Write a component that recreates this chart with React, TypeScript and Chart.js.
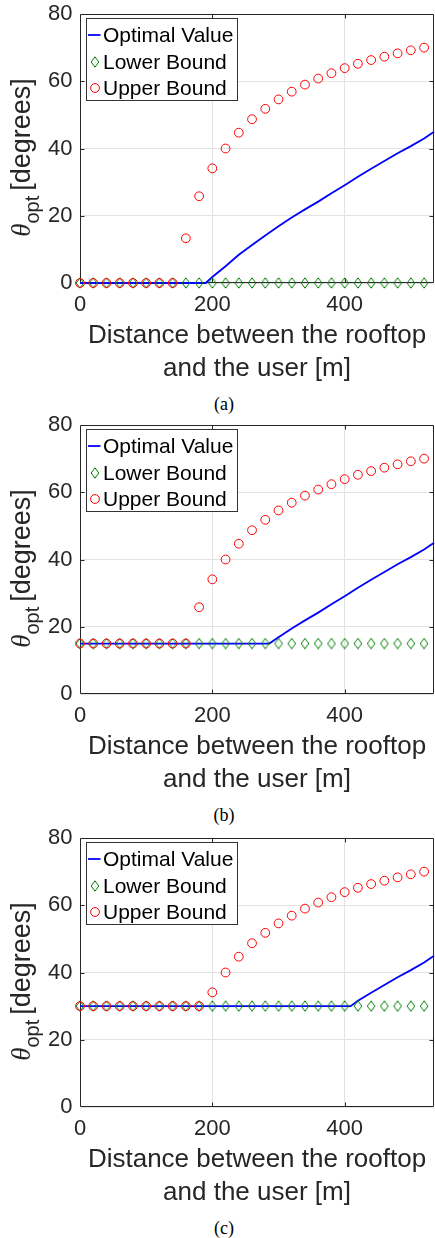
import React, { useEffect, useRef } from 'react';
import { Chart, registerables } from 'chart.js';

Chart.register(...registerables);

// ---------- data ----------
const markerDistances = [0, 20, 40, 60, 80, 100, 120, 140, 160, 180, 200, 220, 240, 260, 280, 300, 320, 340, 360, 380, 400, 420, 440, 460, 480, 500, 520];

const xTickValues = [0, 200, 400];
const yTickValues = [0, 20, 40, 60, 80];

const xAxisTitle = ['Distance between the rooftop', 'and the user [m]'];
const seriesNames = ['Optimal Value', 'Lower Bound', 'Upper Bound'];
const captions = ['(a)', '(b)', '(c)'];

// panel (a)
const optDistA = [0, 190, 200, 220, 240, 260, 280, 300, 320, 340, 360, 380, 400, 420, 440, 460, 480, 500, 520, 535];
const optA = [0, 0, 1.8, 5.0, 8.4, 11.3, 14.1, 16.9, 19.5, 21.9, 24.2, 26.7, 29.1, 31.6, 34.0, 36.3, 38.6, 40.7, 43.0, 45.0];
const lowerA = [0, 0, 0, 0, 0, 0, 0, 0, 0, 0, 0, 0, 0, 0, 0, 0, 0, 0, 0, 0, 0, 0, 0, 0, 0, 0, 0];
const upperA = [0, 0, 0, 0, 0, 0, 0, 0, 13.3, 25.8, 34.1, 40.0, 44.7, 48.7, 51.8, 54.6, 56.9, 59.0, 60.8, 62.4, 63.9, 65.2, 66.3, 67.3, 68.3, 69.2, 70.0];

// panel (b)
const optDistB = [0, 286, 300, 320, 340, 360, 380, 400, 420, 440, 460, 480, 500, 520, 535];
const optB = [15, 15, 16.9, 19.5, 21.9, 24.2, 26.7, 29.1, 31.6, 34.0, 36.3, 38.6, 40.7, 43.0, 45.0];
const lowerB = [15, 15, 15, 15, 15, 15, 15, 15, 15, 15, 15, 15, 15, 15, 15, 15, 15, 15, 15, 15, 15, 15, 15, 15, 15, 15, 15];
const upperB = [15, 15, 15, 15, 15, 15, 15, 15, 15, 25.8, 34.1, 40.0, 44.7, 48.7, 51.8, 54.6, 56.9, 59.0, 60.8, 62.4, 63.9, 65.2, 66.3, 67.3, 68.3, 69.2, 70.0];

// panel (c)
const optDistC = [0, 409, 420, 440, 460, 480, 500, 520, 535];
const optC = [30, 30, 31.6, 34.0, 36.3, 38.6, 40.7, 43.0, 45.0];
const lowerC = [30, 30, 30, 30, 30, 30, 30, 30, 30, 30, 30, 30, 30, 30, 30, 30, 30, 30, 30, 30, 30, 30, 30, 30, 30, 30, 30];
const upperC = [30, 30, 30, 30, 30, 30, 30, 30, 30, 30, 34.1, 40.0, 44.7, 48.7, 51.8, 54.6, 56.9, 59.0, 60.8, 62.4, 63.9, 65.2, 66.3, 67.3, 68.3, 69.2, 70.0];

const X_MIN = 0;
const X_MAX = 535;
const Y_MIN = 0;
const Y_MAX = 80;

// ---------- styles ----------
const SANS = "'Liberation Sans', Arial, Helvetica, sans-serif";
const SERIF = "'Liberation Serif', 'Times New Roman', serif";
const AXIS_COLOR = '#262626';
const GRID_COLOR = '#e3e3e3';
const BLUE = '#0000ff';
const GREEN = '#008000';
const RED = '#ff0000';

const CANVAS_W = 435;
const CANVAS_H = 385;

function makeDiamond(): HTMLCanvasElement {
  const c = document.createElement('canvas');
  c.width = 10;
  c.height = 12;
  const g = c.getContext('2d')!;
  g.strokeStyle = GREEN;
  g.lineWidth = 1;
  g.beginPath();
  g.moveTo(5, 0.8);
  g.lineTo(8.8, 6);
  g.lineTo(5, 11.2);
  g.lineTo(1.2, 6);
  g.closePath();
  g.stroke();
  return c;
}

interface PanelProps {
  optDist: number[];
  opt: number[];
  lower: number[];
  upper: number[];
  caption: string;
  top: number;
}

function Panel({ optDist, opt, lower, upper, caption, top }: PanelProps) {
  const ref = useRef<HTMLCanvasElement | null>(null);

  useEffect(() => {
    const canvas = ref.current;
    if (!canvas) return;
    const diamond = makeDiamond();

    const framePlugin = {
      id: 'frame',
      beforeDatasetsDraw(chart: any) {
        const { ctx, chartArea } = chart;
        const xs = chart.scales.x;
        const ys = chart.scales.y;
        const L = Math.round(chartArea.left) + 0.5;
        const R = Math.round(chartArea.right) - 0.5;
        const T = Math.round(chartArea.top) + 0.5;
        const B = Math.round(chartArea.bottom) - 0.5;
        ctx.save();
        ctx.strokeStyle = AXIS_COLOR;
        ctx.lineWidth = 1;
        ctx.beginPath();
        ctx.rect(L, T, R - L, B - T);
        xTickValues.forEach((v) => {
          if (v === X_MIN) return;
          const px = Math.round(xs.getPixelForValue(v)) + 0.5;
          ctx.moveTo(px, B);
          ctx.lineTo(px, B - 4);
          ctx.moveTo(px, T);
          ctx.lineTo(px, T + 4);
        });
        yTickValues.forEach((v) => {
          if (v === Y_MIN || v === Y_MAX) return;
          const py = Math.round(ys.getPixelForValue(v)) + 0.5;
          ctx.moveTo(L, py);
          ctx.lineTo(L + 4, py);
          ctx.moveTo(R, py);
          ctx.lineTo(R - 4, py);
        });
        ctx.stroke();
        ctx.restore();
      },
      afterDraw(chart: any) {
        const { ctx, chartArea } = chart;
        // legend box
        const bx = chartArea.left + 6.5;
        const by = chartArea.top + 4.5;
        const bw = 151;
        const bh = 82;
        ctx.save();
        ctx.fillStyle = '#ffffff';
        ctx.fillRect(bx, by, bw, bh);
        ctx.strokeStyle = '#333333';
        ctx.lineWidth = 1;
        ctx.strokeRect(bx, by, bw, bh);
        const rows = [by + 16.5, by + 43.5, by + 69.5];
        const mx = bx + 8.5;
        ctx.strokeStyle = BLUE;
        ctx.lineWidth = 1.8;
        ctx.beginPath();
        ctx.moveTo(bx + 1.5, rows[0]);
        ctx.lineTo(bx + 14, rows[0]);
        ctx.stroke();
        ctx.drawImage(diamond, mx - diamond.width / 2, rows[1] - diamond.height / 2);
        ctx.strokeStyle = RED;
        ctx.lineWidth = 1;
        ctx.beginPath();
        ctx.arc(mx, rows[2], 4.4, 0, Math.PI * 2);
        ctx.stroke();
        ctx.fillStyle = '#000000';
        ctx.font = `21px ${SANS}`;
        ctx.textBaseline = 'middle';
        ctx.textAlign = 'left';
        seriesNames.forEach((name, i) => {
          ctx.fillText(name, bx + 16.5, rows[i] + 1);
        });

        // y-axis title: θ_opt [degrees]
        const cy = (chartArea.top + chartArea.bottom) / 2 + 9;
        const thetaFont = `italic 27px ${SERIF}`;
        const subFont = `20px ${SANS}`;
        const mainFont = `27px ${SANS}`;
        ctx.font = thetaFont;
        const wT = ctx.measureText('θ').width;
        ctx.font = subFont;
        const wS = ctx.measureText('opt').width;
        ctx.font = mainFont;
        const wD = ctx.measureText('[degrees]').width;
        const gap = 5;
        const total = wT + wS + gap + wD;
        ctx.translate(30, cy + total / 2);
        ctx.rotate(-Math.PI / 2);
        ctx.fillStyle = AXIS_COLOR;
        ctx.textBaseline = 'alphabetic';
        ctx.font = thetaFont;
        ctx.fillText('θ', 0, 0);
        ctx.font = subFont;
        ctx.fillText('opt', wT, 9);
        ctx.font = mainFont;
        ctx.fillText('[degrees]', wT + wS + gap, 0);
        ctx.restore();
      },
    };

    const chart = new Chart(canvas, {
      type: 'scatter',
      data: {
        datasets: [
          {
            label: seriesNames[0],
            data: optDist.map((x, i) => ({ x, y: opt[i] })),
            showLine: true,
            borderColor: BLUE,
            borderWidth: 1.8,
            pointRadius: 0,
            pointHoverRadius: 0,
            fill: false,
            tension: 0,
            clip: false as any,
            order: 2,
          },
          {
            label: seriesNames[1],
            data: markerDistances.map((x, i) => ({ x, y: lower[i] })),
            showLine: false,
            pointStyle: diamond as any,
            pointRadius: 5,
            borderColor: GREEN,
            backgroundColor: 'rgba(0,0,0,0)',
            clip: false as any,
            order: 1,
          },
          {
            label: seriesNames[2],
            data: markerDistances.map((x, i) => ({ x, y: upper[i] })),
            showLine: false,
            pointStyle: 'circle',
            pointRadius: 4.4,
            borderWidth: 1,
            borderColor: RED,
            backgroundColor: 'rgba(0,0,0,0)',
            clip: false as any,
            order: 0,
          },
        ],
      },
      options: {
        animation: false,
        responsive: false,
        events: [],
        layout: { autoPadding: false, padding: { top: 14, left: 0, right: 1, bottom: 0 } },
        plugins: {
          legend: { display: false },
          tooltip: { enabled: false },
        },
        scales: {
          x: {
            type: 'linear',
            position: 'bottom',
            min: X_MIN,
            max: X_MAX,
            afterBuildTicks: (s: any) => {
              s.ticks = xTickValues.map((v) => ({ value: v }));
            },
            afterFit: (s: any) => {
              s.height = CANVAS_H - 283;
              s.paddingLeft = 0;
              s.paddingRight = 0;
              s.paddingTop = 0;
              s.paddingBottom = 0;
            },
            grid: { color: GRID_COLOR, lineWidth: 1, drawTicks: false },
            border: { display: false },
            ticks: {
              font: { family: SANS, size: 22 },
              color: AXIS_COLOR,
              padding: 9,
              maxRotation: 0,
              autoSkip: false,
            },
            title: {
              display: true,
              text: xAxisTitle,
              font: { family: SANS, size: 26, lineHeight: 1.27 },
              color: AXIS_COLOR,
              padding: 0,
            },
          },
          y: {
            type: 'linear',
            min: Y_MIN,
            max: Y_MAX,
            afterBuildTicks: (s: any) => {
              s.ticks = yTickValues.map((v) => ({ value: v }));
            },
            afterFit: (s: any) => {
              s.width = 80;
              s.paddingLeft = 0;
              s.paddingRight = 0;
              s.paddingTop = 0;
              s.paddingBottom = 0;
            },
            grid: { color: GRID_COLOR, lineWidth: 1, drawTicks: false },
            border: { display: false },
            ticks: {
              font: { family: SANS, size: 22 },
              color: AXIS_COLOR,
              padding: 7.5,
              autoSkip: false,
            },
            title: { display: false },
          },
        },
      } as any,
      plugins: [framePlugin],
    });

    return () => {
      chart.destroy();
    };
  }, [optDist, opt, lower, upper]);

  return (
    <>
      <canvas
        ref={ref}
        width={CANVAS_W}
        height={CANVAS_H}
        style={{ position: 'absolute', left: 0, top, width: CANVAS_W, height: CANVAS_H }}
      />
      <div
        style={{
          position: 'absolute',
          left: 224,
          top: top + 393,
          transform: 'translateX(-50%)',
          fontFamily: SERIF,
          fontSize: 18,
          lineHeight: '22px',
          color: '#000',
          whiteSpace: 'nowrap',
        }}
      >
        {caption}
      </div>
    </>
  );
}

export default function App() {
  return (
    <div
      style={{
        position: 'absolute',
        left: 0,
        top: 0,
        width: 435,
        height: 1238,
        background: '#ffffff',
        overflow: 'hidden',
      }}
    >
      <Panel optDist={optDistA} opt={optA} lower={lowerA} upper={upperA} caption={captions[0]} top={0} />
      <Panel optDist={optDistB} opt={optB} lower={lowerB} upper={upperB} caption={captions[1]} top={411} />
      <Panel optDist={optDistC} opt={optC} lower={lowerC} upper={upperC} caption={captions[2]} top={824} />
    </div>
  );
}
